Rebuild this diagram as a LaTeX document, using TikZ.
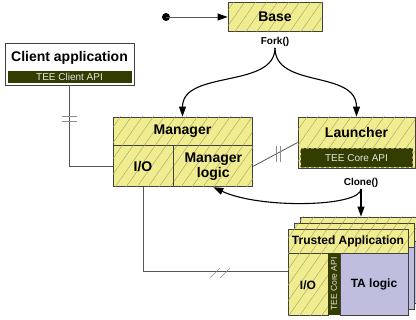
\documentclass[tikz,border=0pt]{standalone}
\usepackage{fontspec}
\setmainfont{Liberation Sans}
\usetikzlibrary{arrows.meta, positioning, patterns.meta}
\definecolor{boxyellow}{RGB}{240,236,144}
\definecolor{hatchgray}{RGB}{168,162,96}
\definecolor{apigreen}{RGB}{51,61,0}
\definecolor{talilac}{RGB}{192,190,222}
\definecolor{edgegray}{RGB}{64,64,64}
\definecolor{linkgray}{RGB}{85,85,85}
\tikzset{
  hatchbox/.style={
    rectangle,
    draw=edgegray,
    fill=boxyellow,
    postaction={pattern={Lines[angle=55,distance=9pt,line width=0.4pt]}, pattern color=hatchgray},
    align=center,
    inner sep=0pt,
    line width=0.8pt,
    font=\bfseries\fontsize{14}{15}\selectfont
  },
  plainbox/.style={
    rectangle,
    draw=edgegray,
    fill=white,
    line width=0.8pt
  },
  lilacbox/.style={
    rectangle,
    draw=edgegray,
    fill=talilac,
    inner sep=0pt,
    line width=0.8pt,
    font=\bfseries\fontsize{12}{14}\selectfont
  },
  apibar/.style={
    rectangle,
    fill=apigreen,
    text=black!10,
    inner sep=0pt,
    font=\fontsize{10}{12}\selectfont
  },
  titletext/.style={inner sep=0pt, font=\bfseries\fontsize{14}{15}\selectfont},
  call/.style={inner sep=1pt, font=\bfseries\fontsize{10}{12}\selectfont},
  link/.style={draw=linkgray, line width=0.8pt},
  breakmark/.style={draw=black!45, line width=0.6pt},
  arrow/.style={-{Triangle[length=10pt,width=7pt]}, line width=1.1pt}
}

\begin{document}
\begin{tikzpicture}[x=1pt, y=1pt, node distance=2pt]
  \useasboundingbox (0,0) rectangle (416,320);

  % base process and fork
  \coordinate (start) at (166,303);
  \node[hatchbox, minimum width=94pt, minimum height=29pt] (base) at (275,303) {Base};
  \fill (start) circle (4pt);
  \draw[link, -{Triangle[length=10pt,width=7pt,color=black]}] (start) -- (base.west);
  \node[call] (fork) at (275,278) {Fork()};

  % client side
  \node[plainbox, minimum width=129pt, minimum height=42pt] (client) at (69.5,256) {};
  \node[titletext] (clienttitle) at (69.5,262) {Client application};
  \node[apibar, minimum width=124pt, minimum height=12pt, above=2pt of client.south] (clientapi) {TEE Client API};

  % manager
  \node[hatchbox, minimum width=139pt, minimum height=28pt] (mgr) at (182.5,189) {Manager};
  \node[hatchbox, minimum width=60pt, minimum height=41pt, anchor=north west] (mgrio) at (mgr.south west) {I/O};
  \node[hatchbox, minimum width=79pt, minimum height=41pt, anchor=north west] (mgrlogic) at (mgrio.north east) {Manager\\logic};

  % launcher
  \node[hatchbox, minimum width=117pt, minimum height=51pt] (launcher) at (356.5,177.5) {};
  \node[titletext] (launchtitle) at (356.5,187) {Launcher};
  \node[apibar, draw=boxyellow!60!black, densely dashed, line width=0.5pt, minimum width=112pt, minimum height=19pt, above=1pt of launcher.south] (coreapi) {TEE Core API};
  \node[call] (clone) at (361,137) {Clone()};

  % trusted application stack
  \foreach \d in {12,6} {
    \node[hatchbox, minimum width=120pt, minimum height=24pt] (tahead\d) at ({348+\d},{79+\d}) {};
    \node[lilacbox, minimum width=120pt, minimum height=62pt, anchor=north] (tabody\d) at (tahead\d.south) {};
  }
  \node[hatchbox, minimum width=120pt, minimum height=24pt, font=\bfseries\fontsize{12}{14}\selectfont] (tahead) at (348,79) {Trusted Application};
  \node[hatchbox, minimum width=40pt, minimum height=62pt, anchor=north west, font=\bfseries\fontsize{12}{14}\selectfont] (taio) at (tahead.south west) {I/O};
  \node[lilacbox, minimum width=68pt, minimum height=62pt, anchor=north east] (talogic) at (tahead.south east) {TA logic};
  \node[apibar, minimum width=62pt, minimum height=12pt, rotate=90, font=\fontsize{8.5}{10}\selectfont] (taapi) at (334,36) {TEE Core API};

  % connectors
  \draw[arrow] (fork.south) .. controls +(0,-41) and +(0,47) .. (mgr.north);
  \draw[arrow] (fork.south) .. controls +(0,-41) and +(0,47) .. (launcher.north);
  \draw[arrow] (clone.south) .. controls +(0,-18) and +(47,-22) .. (mgrlogic.south);
  \draw[arrow] (clone.south) -- (clone.south |- tahead12.north);

  \draw[link] (client.south) |- (mgrio.west);
  \draw[breakmark] (62,204) -- (77,204) (62,199) -- (77,199);
  \draw[link] (mgrlogic.east) -- (launcher.west);
  \draw[breakmark] (276,158) -- (276,174) (280,158) -- (280,174);
  \draw[link] (mgrio.south) |- ([yshift=13pt]taio.west);
  \draw[breakmark] (210,42) -- (220,52) (220,42) -- (230,52);
\end{tikzpicture}
\end{document}
